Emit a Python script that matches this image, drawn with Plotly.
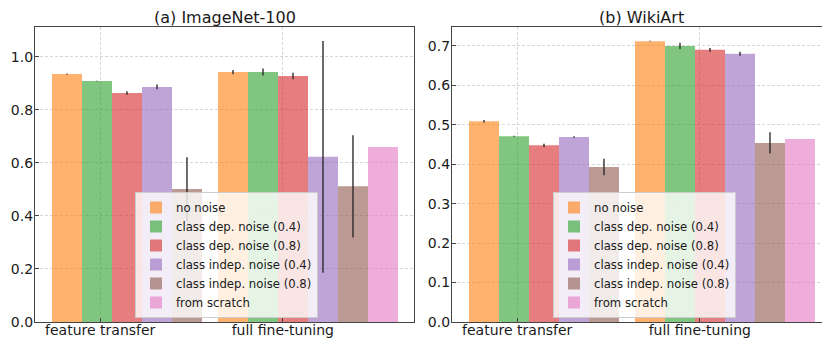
import plotly.graph_objects as go

# ---- data ----
groups = ["feature transfer", "full fine-tuning"]
series = ["no noise", "class dep. noise (0.4)", "class dep. noise (0.8)",
          "class indep. noise (0.4)", "class indep. noise (0.8)", "from scratch"]

# ImageNet-100: [feature transfer, full fine-tuning] per series
in_ft = [0.936, 0.909, 0.864, 0.887, 0.502, None]
in_ft_err = [0.002, 0.001, 0.007, 0.009, 0.120, None]
in_ff = [0.943, 0.943, 0.928, 0.623, 0.512, 0.660]
in_ff_err = [0.008, 0.013, 0.012, 0.437, 0.193, 0.0]

# WikiArt
wa_ft = [0.509, 0.471, 0.448, 0.469, 0.393, None]
wa_ft_err = [0.003, 0.001, 0.004, 0.002, 0.021, None]
wa_ff = [0.712, 0.700, 0.690, 0.680, 0.454, 0.464]
wa_ff_err = [0.001, 0.008, 0.005, 0.005, 0.027, 0.0]

in_ticks = [0.0, 0.2, 0.4, 0.6, 0.8, 1.0]
wa_ticks = [0.0, 0.1, 0.2, 0.3, 0.4, 0.5, 0.6, 0.7]

# ---- style ----
colors = ["rgba(255,127,14,0.6)", "rgba(44,160,44,0.6)", "rgba(214,39,40,0.6)",
          "rgba(148,103,189,0.6)", "rgba(140,86,75,0.6)", "rgba(227,119,194,0.6)"]
OFF = 8                      # page body margin in the browser
W = 830 - OFF
H = 339 - OFF
bar_w = 0.1807
group_pos = [0.0, 1.0]
tick_pos = [0.2, 1.3]
FONT = "DejaVu Sans"
TXT = "#1a1a1a"
FRAME = "#444444"
GRID = "rgba(200,200,200,0.75)"

fig = go.Figure()


def add_panel(ft, ft_err, ff, ff_err, xa, ya, legend):
    for i, name in enumerate(series):
        xs, ys, es = [], [], []
        for g, (vals, errs) in enumerate([(ft, ft_err), (ff, ff_err)]):
            if vals[i] is None:
                continue
            xs.append(group_pos[g] + i * bar_w)
            ys.append(vals[i])
            es.append(errs[i])
        fig.add_trace(go.Bar(
            x=xs, y=ys, width=bar_w, name=name,
            marker=dict(color=colors[i], line=dict(width=0)),
            error_y=dict(type="data", array=es, visible=True,
                         color="rgba(40,40,40,0.85)", thickness=1.6, width=0),
            xaxis=xa, yaxis=ya, legend=legend, showlegend=True,
        ))


add_panel(in_ft, in_ft_err, in_ff, in_ff_err, "x", "y", "legend")
add_panel(wa_ft, wa_ft_err, wa_ff, wa_ff_err, "x2", "y2", "legend2")

# target pixel positions (in the 830x339 screenshot), converted to figure coords
def fx(p):
    return p - OFF

def fy(p):
    return p - OFF

top_px, bot_px = 27, 322
ml, mr, mt, mb = 0, 0, fy(top_px), H - fy(bot_px)
pw = W - ml - mr
ph = H - mt - mb
px_per_unit = 166.0
x_left1, x_right1 = 35, 414
x_left2, x_right2 = 452, 830
orange_c1 = 67
orange_c2 = 484

common_x = dict(
    showline=True, linecolor=FRAME, linewidth=1.3, mirror=True,
    ticks="inside", ticklen=4, tickcolor=FRAME, tickwidth=1,
    showgrid=True, gridcolor=GRID, griddash="3px,2px", gridwidth=0.8,
    tickfont=dict(family=FONT, size=14, color=TXT),
    tickvals=tick_pos, ticktext=groups, zeroline=False, automargin=False,
    ticklabelstandoff=-5,
)
common_y = dict(
    showline=True, linecolor=FRAME, linewidth=1.3,
    ticks="inside", ticklen=4, tickcolor=FRAME, tickwidth=1,
    showgrid=True, gridcolor=GRID, griddash="3px,2px", gridwidth=0.8,
    tickfont=dict(family=FONT, size=14, color=TXT), zeroline=False,
    tickformat=".1f", automargin=False, ticklabelstandoff=-2,
)

leg_bottom = 318
leg_common = dict(xanchor="left", yanchor="bottom",
                  y=(fy(bot_px) - fy(leg_bottom)) / ph,
                  bgcolor="rgba(255,255,255,0.8)", bordercolor="#cccccc", borderwidth=1,
                  font=dict(family=FONT, size=11.7, color=TXT), tracegroupgap=0)

title_center_px = 17.5

fig.update_layout(
    width=W, height=H,
    margin=dict(l=ml, r=mr, t=mt, b=mb),
    paper_bgcolor="white", plot_bgcolor="white",
    barmode="overlay",
    font=dict(family=FONT, color=TXT),
    xaxis=dict(domain=[fx(x_left1) / pw, fx(x_right1) / pw],
               range=[(x_left1 - orange_c1) / px_per_unit, (x_right1 - orange_c1) / px_per_unit],
               anchor="y", **common_x),
    yaxis=dict(domain=[0, 1], range=[0, 1.113], tickvals=in_ticks, anchor="x",
               mirror=True, **common_y),
    xaxis2=dict(domain=[fx(x_left2) / pw, 1.0],
                range=[(x_left2 - orange_c2) / px_per_unit, (x_right2 - orange_c2) / px_per_unit],
                anchor="y2", **common_x),
    yaxis2=dict(domain=[0, 1], range=[0, 0.748], tickvals=wa_ticks, anchor="x2",
                mirror=False, **common_y),
    legend=dict(x=fx(135) / pw, **leg_common),
    legend2=dict(x=fx(553) / pw, **leg_common),
    annotations=[
        dict(text="(a) ImageNet-100", x=fx((x_left1 + x_right1) / 2) / pw,
             y=1 + (top_px - title_center_px) / ph,
             xref="paper", yref="paper", xanchor="center", yanchor="middle",
             showarrow=False, font=dict(family=FONT, size=16, color=TXT)),
        dict(text="(b) WikiArt", x=fx((x_left2 + 831) / 2) / pw,
             y=1 + (top_px - title_center_px) / ph,
             xref="paper", yref="paper", xanchor="center", yanchor="middle",
             showarrow=False, font=dict(family=FONT, size=16, color=TXT)),
    ],
)

fig.write_html("out.html")
